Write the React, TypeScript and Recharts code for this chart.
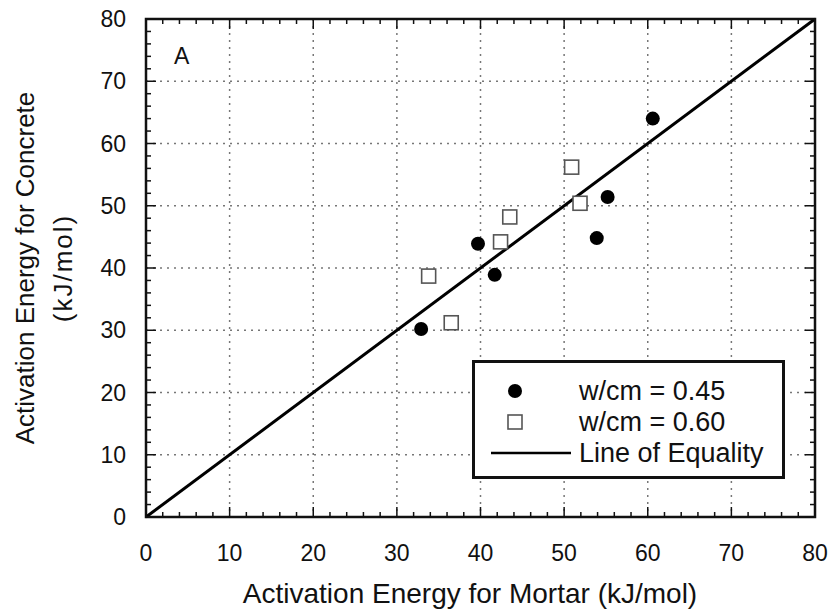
import React from 'react'
import {
  ScatterChart, Scatter, XAxis, YAxis, CartesianGrid, ReferenceLine, ReferenceArea, Legend,
} from 'recharts'

// w/cm = 0.45 (filled circles)
const mortar045 = [32.9, 39.7, 41.7, 53.9, 55.2, 60.6]
const concrete045 = [30.2, 43.9, 38.9, 44.8, 51.4, 64.0]

// w/cm = 0.60 (open squares)
const mortar060 = [33.8, 36.5, 42.4, 43.5, 50.9, 51.9]
const concrete060 = [38.7, 31.2, 44.2, 48.2, 56.2, 50.4]

const majorTicks = [0, 10, 20, 30, 40, 50, 60, 70, 80]
// every 2 kJ/mol, labelled only at multiples of 10
const allTicks = [0, 2, 4, 6, 8, 10, 12, 14, 16, 18, 20, 22, 24, 26, 28, 30, 32, 34, 36, 38, 40, 42, 44, 46, 48, 50, 52, 54, 56, 58, 60, 62, 64, 66, 68, 70, 72, 74, 76, 78, 80]

const FONT = '"Liberation Sans", Arial, Helvetica, sans-serif'

// layout
const W = 836
const H = 616
const M = { top: 19, right: 21, bottom: 59, left: 86 }
const X_AXIS_H = 40
const Y_AXIS_W = 60
const PLOT_W = W - M.left - M.right - Y_AXIS_W
const PLOT_H = H - M.top - M.bottom - X_AXIS_H
const X_GAP = 28
const Y_GAP = 20

const data045 = mortar045.map((x, i) => ({ x, y: concrete045[i] }))
const data060 = mortar060.map((x, i) => ({ x, y: concrete060[i] }))

// eslint-disable-next-line @typescript-eslint/no-explicit-any
const Dot = (p: any) => <circle cx={p.cx} cy={p.cy} r={7} fill="#000" />
// eslint-disable-next-line @typescript-eslint/no-explicit-any
const Square = (p: any) => (
  <rect x={p.cx - 7} y={p.cy - 7} width={14} height={14} fill="#fff" stroke="#555" strokeWidth={1.6} />
)

// inward ticks on bottom + top edges, label only on majors
// eslint-disable-next-line @typescript-eslint/no-explicit-any
const XTick = (p: any) => {
  const v = p.payload.value
  const major = v % 10 === 0
  const len = major ? 10 : 5
  const bottom = p.y - X_GAP
  const top = bottom - PLOT_H
  return (
    <g>
      <line x1={p.x} x2={p.x} y1={bottom} y2={bottom - len} stroke="#111" strokeWidth={1.5} />
      <line x1={p.x} x2={p.x} y1={top} y2={top + len} stroke="#111" strokeWidth={1.5} />
      {major && (
        <text x={p.x} y={p.y} dy="0.71em" textAnchor="middle" fontSize={23} fill="#111" fontFamily={FONT}>{v}</text>
      )}
    </g>
  )
}

// eslint-disable-next-line @typescript-eslint/no-explicit-any
const YTick = (p: any) => {
  const v = p.payload.value
  const major = v % 10 === 0
  const len = major ? 10 : 5
  const left = p.x + Y_GAP
  const right = left + PLOT_W
  return (
    <g>
      <line x1={left} x2={left + len} y1={p.y} y2={p.y} stroke="#111" strokeWidth={1.5} />
      <line x1={right} x2={right - len} y1={p.y} y2={p.y} stroke="#111" strokeWidth={1.5} />
      {major && (
        <text x={p.x} y={p.y} dy="0.355em" textAnchor="end" fontSize={23} fill="#111" fontFamily={FONT}>{v}</text>
      )}
    </g>
  )
}

const LegendBox = () => (
  <div style={{
    width: 313, height: 119, boxSizing: 'border-box', border: '3px solid #111',
    background: '#fff', fontFamily: FONT, fontSize: 27, color: '#111', padding: '12px 0 0 0',
  }}>
    {[
      { icon: <circle cx={40} cy={13} r={7} fill="#000" />, text: 'w/cm = 0.45' },
      { icon: <rect x={33} y={6} width={14} height={14} fill="#fff" stroke="#555" strokeWidth={1.6} />, text: 'w/cm = 0.60' },
      { icon: <line x1={16} y1={13} x2={96} y2={13} stroke="#000" strokeWidth={2.5} />, text: 'Line of Equality' },
    ].map((row, i) => (
      <div key={i} style={{ display: 'flex', alignItems: 'center', height: 31 }}>
        <svg width={104} height={26}>{row.icon}</svg>
        <span style={{ lineHeight: '26px' }}>{row.text}</span>
      </div>
    ))}
  </div>
)

export default function App() {
  return (
    <div style={{ position: 'absolute', left: 0, top: 0, width: W, height: H, background: '#fff', fontFamily: FONT }}>
      <ScatterChart width={W} height={H} margin={M}>
        <CartesianGrid stroke="#777" strokeWidth={1.5} strokeDasharray="2 5"
          verticalValues={majorTicks} horizontalValues={majorTicks} />
        <XAxis dataKey="x" type="number" domain={[0, 80]} ticks={allTicks} allowDataOverflow interval={0}
          height={X_AXIS_H} tickSize={0} tickMargin={X_GAP} axisLine={false} tickLine={false} tick={XTick} />
        <YAxis dataKey="y" type="number" domain={[0, 80]} ticks={allTicks} allowDataOverflow interval={0}
          width={Y_AXIS_W} tickSize={0} tickMargin={Y_GAP} axisLine={false} tickLine={false} tick={YTick} />

        <ReferenceArea x1={0} x2={80} y1={0} y2={80} fill="none" stroke="#111" strokeWidth={2.5} />
        <ReferenceLine segment={[{ x: 0, y: 0 }, { x: 80, y: 80 }]} stroke="#000" strokeWidth={3} />
        <Scatter name="w/cm = 0.45" data={data045} shape={Dot} isAnimationActive={false} />
        <Scatter name="w/cm = 0.60" data={data060} shape={Square} isAnimationActive={false} />
        <Legend layout="horizontal" align="center" verticalAlign="middle" content={() => <LegendBox />}
          wrapperStyle={{ position: 'absolute', left: 472, top: 360, width: 313, height: 119 }} />
      </ScatterChart>

      <div style={{ position: 'absolute', left: 174, top: 43, fontSize: 23, color: '#111' }}>A</div>
      <div style={{ position: 'absolute', left: 0, top: 578, width: 940, textAlign: 'center', fontSize: 28, color: '#111' }}>
        Activation Energy for Mortar (kJ/mol)
      </div>
      <div style={{
        position: 'absolute', left: 44, top: 268, width: 500, marginLeft: -250, textAlign: 'center',
        transform: 'translateY(-50%) rotate(-90deg)', fontSize: 26, lineHeight: '38px', color: '#111',
      }}>
        Activation Energy for Concrete<br /><span style={{ letterSpacing: 2 }}>(kJ/mol)</span>
      </div>
    </div>
  )
}
